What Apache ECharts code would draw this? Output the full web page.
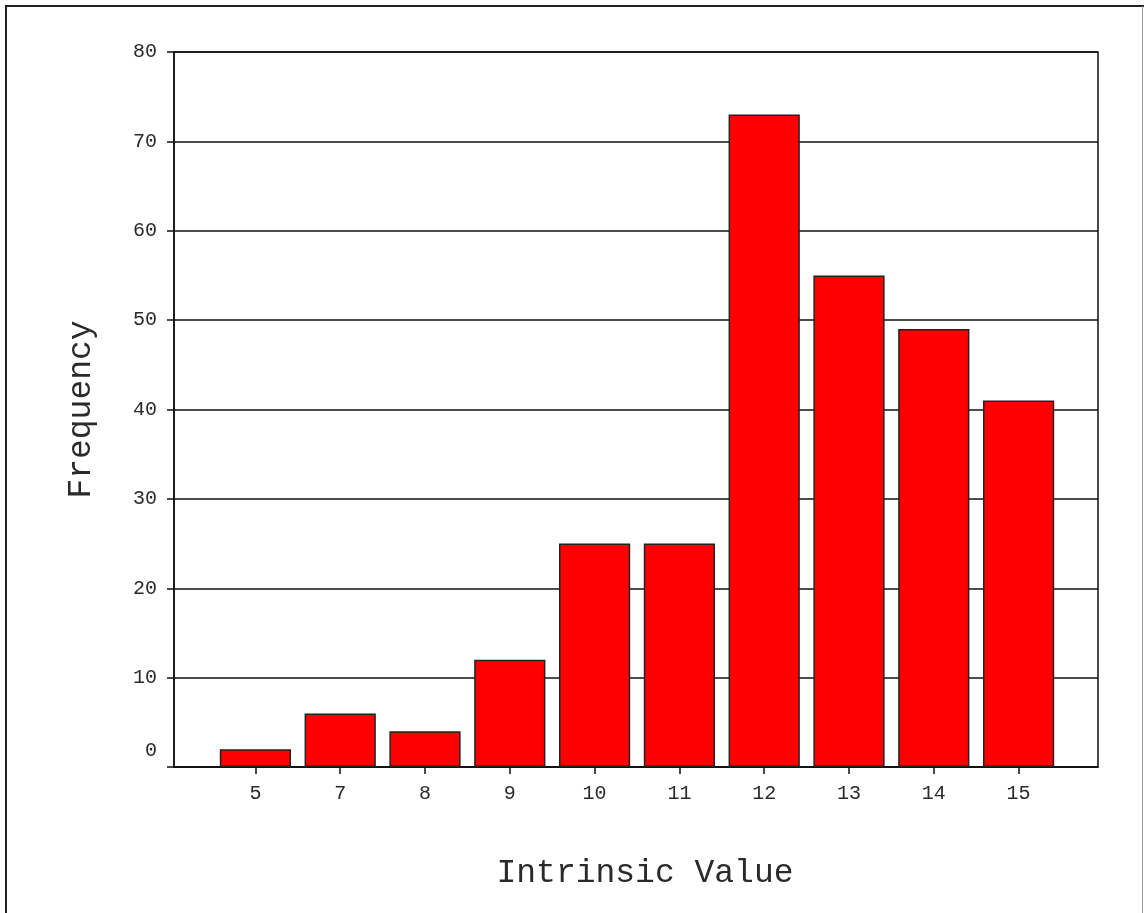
<!DOCTYPE html>
<html>
<head>
<meta charset="utf-8">
<style>
  html, body { margin: 0; padding: 0; background: #fff; }
  #chart { width: 1144px; height: 913px; }
</style>
<script src="https://cdn.jsdelivr.net/npm/echarts@6/dist/echarts.min.js"></script>
</head>
<body>
<div id="chart"></div>
<script>
// ---- data ----
const categories = ['5', '7', '8', '9', '10', '11', '12', '13', '14', '15'];
const frequency = [2, 6, 4, 12, 25, 25, 73, 55, 49, 41];
const yMin = 0;
const yMax = 80;
const yStep = 10;
const xTitle = 'Intrinsic Value';
const yTitle = 'Frequency';

const FONT = "'Courier New', 'Liberation Mono', monospace";
const INK = '#111';
const TXT = '#2a2a2a';

const chart = echarts.init(document.getElementById('chart'), null, { renderer: 'canvas' });

const option = {
  backgroundColor: '#fff',
  animation: false,
  textStyle: { fontFamily: FONT, color: TXT },
  graphic: [
    { type: 'line', shape: { x1: 6, y1: 5, x2: 6, y2: 913 }, style: { stroke: '#222', lineWidth: 2 } },
    { type: 'line', shape: { x1: 5, y1: 6, x2: 1144, y2: 6 }, style: { stroke: '#222', lineWidth: 2 } },
    { type: 'line', shape: { x1: 1142.5, y1: 6, x2: 1142.5, y2: 913 }, style: { stroke: '#999', lineWidth: 1 } }
  ],
  grid: [
    { left: 174, right: 46, top: 52, bottom: 146, show: true, borderColor: INK, borderWidth: 1.5, backgroundColor: 'transparent' },
    { left: 213, right: 83, top: 52, bottom: 146 }
  ],
  xAxis: [
    {
      type: 'category', gridIndex: 0, data: categories,
      axisLine: { show: true, lineStyle: { color: INK, width: 1.5 } },
      axisTick: { show: false }, axisLabel: { show: false }, splitLine: { show: false }
    },
    {
      type: 'category', gridIndex: 1, data: categories,
      axisLine: { show: false },
      axisTick: { show: true, alignWithLabel: true, length: 7, lineStyle: { color: INK, width: 1.5 } },
      axisLabel: { show: true, fontFamily: FONT, fontSize: 20, color: TXT, margin: 17 },
      name: xTitle, nameLocation: 'middle', nameGap: 90,
      nameTextStyle: { fontFamily: FONT, fontSize: 33, color: TXT, padding: [0, 0, 0, 16] }
    }
  ],
  yAxis: [
    {
      type: 'value', gridIndex: 0, min: yMin, max: yMax, interval: yStep,
      axisLine: { show: true, lineStyle: { color: INK, width: 1.5 } },
      axisTick: { show: true, length: 7, lineStyle: { color: INK, width: 1.5 } },
      splitLine: { show: true, lineStyle: { color: INK, width: 1.5 } },
      axisLabel: {
        show: true, fontFamily: FONT, fontSize: 20, color: TXT, margin: 17,
        formatter: function (v) { return v === 0 ? '{z|0}' : String(v); },
        rich: { z: { fontFamily: FONT, fontSize: 20, color: TXT, padding: [0, 0, 32, 0] } }
      },
      name: yTitle, nameLocation: 'middle', nameGap: 76, nameRotate: 90,
      nameTextStyle: { fontFamily: FONT, fontSize: 33, color: TXT }
    },
    {
      type: 'value', gridIndex: 1, min: yMin, max: yMax, interval: yStep, show: false,
      splitLine: { show: false }
    }
  ],
  series: [
    {
      type: 'bar', xAxisIndex: 1, yAxisIndex: 1, data: frequency,
      barCategoryGap: '16%',
      itemStyle: { color: '#fe0000', borderColor: '#222', borderWidth: 1.5 }
    }
  ]
};

chart.setOption(option);
</script>
</body>
</html>
